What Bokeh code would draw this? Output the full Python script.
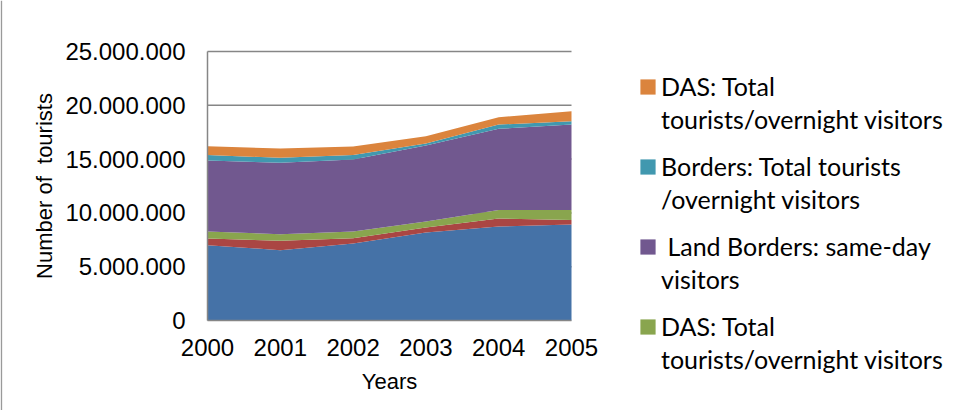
from bokeh.plotting import figure
from bokeh.models import (FixedTicker, CustomJSTickFormatter, Legend, LegendItem,
                          Range1d, ColumnDataSource, Span)
from bokeh.embed import file_html
from bokeh.resources import INLINE

years = [2000, 2001, 2002, 2003, 2004, 2005]
blue_air = [7000000, 6540000, 7160000, 8180000, 8730000, 8920000]
red_sea = [620000, 870000, 490000, 460000, 740000, 430000]
green_das = [650000, 610000, 620000, 560000, 810000, 930000]
purple_land_sameday = [6610000, 6640000, 6700000, 7070000, 7530000, 7930000]
teal_borders = [490000, 460000, 400000, 180000, 400000, 310000]
orange_das = [830000, 870000, 800000, 680000, 680000, 920000]

series_names = ["blue", "red", "green", "purple", "teal", "orange"]
series_values = [blue_air, red_sea, green_das, purple_land_sameday, teal_borders, orange_das]
colors = ["#4572A7", "#AA4643", "#89A54E", "#71588F", "#4198AF", "#DB843D"]

legend_order = ["orange", "teal", "purple", "green"]
legend_line1 = ["DAS: Total", "Borders: Total tourists", " Land Borders: same-day", "DAS: Total"]
legend_line2 = ["tourists/overnight visitors", "/overnight visitors", "visitors",
                "tourists/overnight visitors"]

y_ticks = [0, 5000000, 10000000, 15000000, 20000000, 25000000]

data = {"x": years}
for n, v in zip(series_names, series_values):
    data[n] = v

# layout (pixels): plot area spans x 207..571, y 51 (25M) .. 320 (0)
W, H = 960, 410
PL, PR, PT, PB = 207, 571, 51, 320
x_per_px = (years[-1] - years[0]) / (PR - PL)
y_per_px = (y_ticks[-1] - y_ticks[0]) / (PB - PT)
x_range = Range1d(years[0] - PL * x_per_px, years[-1] + (W - PR) * x_per_px)
y_range = Range1d(y_ticks[0] - (H - PB) * y_per_px, y_ticks[-1] + PT * y_per_px)

p = figure(width=W, height=H, output_backend="svg", toolbar_location=None,
           x_range=x_range, y_range=y_range,
           min_border=0, min_border_left=0, min_border_right=0,
           min_border_top=0, min_border_bottom=0)
p.title.visible = False
p.outline_line_color = None
p.xgrid.visible = False
p.ygrid.visible = False

# chart-area border on the left edge
p.add_layout(Span(location=x_range.start + 0.9 * x_per_px, dimension="height",
                  line_color="#9a9a9a", line_width=1.5))

# horizontal gridlines limited to the plot area
p.segment(x0=years[0], x1=years[-1], y0=y_ticks[1:], y1=y_ticks[1:],
          line_color="#868686", line_width=1.5)

rends = p.varea_stack(stackers=series_names, x="x", color=colors, source=data)

p.xaxis.fixed_location = y_ticks[0]
p.yaxis.fixed_location = years[0]
p.xaxis.bounds = (years[0], years[-1])
p.yaxis.bounds = (y_ticks[0], y_ticks[-1])

p.xaxis.ticker = FixedTicker(ticks=years)
p.yaxis.ticker = FixedTicker(ticks=y_ticks)
p.yaxis.formatter = CustomJSTickFormatter(code="""
return Math.round(tick).toString().replace(/\\B(?=(\\d{3})+(?!\\d))/g, '.');
""")

for ax in (p.xaxis[0], p.yaxis[0]):
    ax.axis_line_color = "#868686"
    ax.axis_line_width = 1.5
    ax.major_tick_line_color = None
    ax.minor_tick_line_color = None
    ax.major_label_text_font = "Liberation Sans"
    ax.major_label_text_font_size = "24px"
    ax.major_label_text_color = "black"
    ax.axis_label_text_font = "Liberation Sans"
    ax.axis_label_text_font_size = "22px"
    ax.axis_label_text_font_style = "normal"
    ax.axis_label_text_color = "black"

p.xaxis.axis_label = "Years"
p.yaxis.axis_label = "Number of\u00a0 tourists"
p.yaxis.major_label_standoff = 16
p.xaxis.major_label_standoff = 12
p.yaxis.axis_label_standoff = 5
p.xaxis.axis_label_standoff = 10

# ---------------- legend ----------------
name_to_r = dict(zip(series_names, rends))
blank = p.varea(x="x", y1="y1", y2="y2", fill_alpha=0,
                source=ColumnDataSource(dict(x=[], y1=[], y2=[])))

common = dict(orientation="vertical", padding=0, margin=0, spacing=50,
              glyph_width=19, glyph_height=19, label_standoff=4,
              label_text_font="Lato", label_text_font_size="25px",
              label_text_color="black", label_height=30,
              border_line_color=None, background_fill_alpha=0)

items1 = [LegendItem(label=t, renderers=[name_to_r[n]]) for n, t in zip(legend_order, legend_line1)]
items2 = [LegendItem(label=t, renderers=[blank]) for t in legend_line2]

leg1 = Legend(items=items1, location=(638, 69), **common)
leg2 = Legend(items=items2, location=(638, 36), **common)
p.add_layout(leg1, "center")
p.add_layout(leg2, "center")

open("out.html", "w").write(file_html(p, INLINE))
